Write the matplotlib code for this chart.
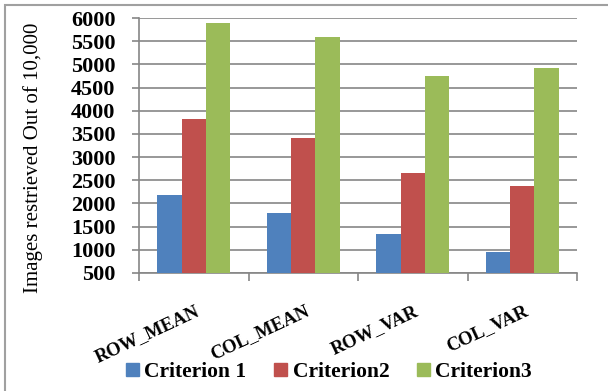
import matplotlib
matplotlib.use("Agg")
import matplotlib.pyplot as plt
import matplotlib.patches as mpatches
import numpy as np

categories = ["ROW_MEAN", "COL_MEAN", "ROW_VAR", "COL_VAR"]
series_names = ["Criterion 1", "Criterion2", "Criterion3"]
criterion1 = [2190, 1800, 1350, 960]
criterion2 = [3820, 3420, 2660, 2380]
criterion3 = [5890, 5590, 4750, 4920]
y_ticks = [500, 1000, 1500, 2000, 2500, 3000, 3500, 4000, 4500, 5000, 5500, 6000]
colors = ["#4F81BD", "#C0504D", "#9BBB59"]

plt.rcParams["font.family"] = ["Liberation Serif", "DejaVu Serif"]

W, H = 608, 391
fig = plt.figure(figsize=(W / 100, H / 100), dpi=100)
ax = fig.add_axes([139 / W, 1 - 273 / H, (577 - 139) / W, (273 - 18) / H])

x = np.arange(len(categories))
bw = 1 / 4.5
for k, vals in enumerate([criterion1, criterion2, criterion3]):
    ax.bar(x + (k - 1) * bw, np.array(vals) - 500, bottom=500, width=bw,
           color=colors[k], zorder=3, label=series_names[k])

grid_c = "#868686"
ax.set_ylim(500, 6000)
ax.set_xlim(-0.5, len(categories) - 0.5)
ax.set_yticks(y_ticks)
ax.set_yticklabels([str(v) for v in y_ticks], fontweight="bold", fontsize=16)
ax.yaxis.grid(True, color=grid_c, linewidth=1.2, zorder=0)
ax.tick_params(axis="y", length=5, width=1.2, color=grid_c, pad=12)

ax.set_xticks(np.arange(-0.5, len(categories)), minor=False)
ax.set_xticklabels([])
ax.tick_params(axis="x", which="major", length=6, width=1.2, color=grid_c)
ax.set_xticks(x + 0.01, minor=True)
ax.set_xticklabels(categories, minor=True, rotation=25, ha="right", va="top",
                   rotation_mode="anchor", fontweight="bold", fontsize=13.5)
ax.tick_params(axis="x", which="minor", length=0, pad=21)

for s in ["top", "right"]:
    ax.spines[s].set_visible(False)
for s in ["left", "bottom"]:
    ax.spines[s].set_color(grid_c)
    ax.spines[s].set_linewidth(1.2)

fig.text(33 / W, 1 - 158 / H, "Images restrieved Out of 10,000", rotation=90,
         ha="center", va="center", fontsize=15)

handles = [mpatches.Patch(color=c) for c in colors]
fig.legend(handles, series_names, loc="center", bbox_to_anchor=(329 / W, 1 - 372 / H),
           ncol=3, frameon=False, prop={"weight": "bold", "size": 15.5},
           handlelength=0.6, handleheight=0.6, handletextpad=0.25,
           columnspacing=1.3)

frame = mpatches.Rectangle((5 / W, -0.5), 2.0, 1.5 - 5 / H, transform=fig.transFigure,
                           fill=False, edgecolor="#a0a0a0", linewidth=1.5)
fig.add_artist(frame)

fig.savefig("out.png", dpi=100)
